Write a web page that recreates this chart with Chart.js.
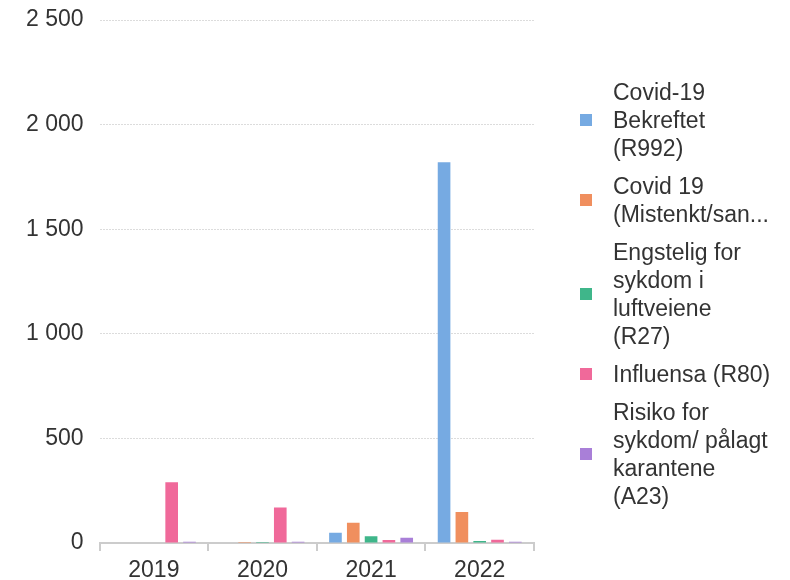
<!DOCTYPE html>
<html>
<head>
<meta charset="utf-8">
<script src="https://cdn.jsdelivr.net/npm/chart.js@4"></script>
<style>
  html, body { margin: 0; padding: 0; background: #fff; }
  #wrap { position: relative; width: 790px; height: 580px; }
  #legend {
    position: absolute; left: 580px; top: 78px;
    font-family: 'Liberation Sans', Arial, sans-serif;
    font-size: 23px; line-height: 28px; color: #333;
  }
  .item { display: flex; align-items: center; margin-bottom: 10px; }
  .box { width: 12px; height: 12px; margin-right: 21px; flex: none; }
</style>
</head>
<body>
<div id="wrap">
  <canvas id="chart"></canvas>
  <div id="legend"></div>
</div>
<script>
const years = ['2019', '2020', '2021', '2022'];

const seriesNames = [
    ['Covid-19', 'Bekreftet', '(R992)'],
    ['Covid 19', '(Mistenkt/san...'],
    ['Engstelig for', 'sykdom i', 'luftveiene', '(R27)'],
    ['Influensa (R80)'],
    ['Risiko for', 'sykdom/ pålagt', 'karantene', '(A23)']
];

const covidBekreftet = [0, 0, 49, 1820];
const covidMistenkt = [0, 5, 97, 148];
const engstelig = [0, 5, 32, 10];
const influensa = [290, 170, 14, 16];
const risiko = [6, 6, 25, 6];

const yTicks = [0, 500, 1000, 1500, 2000, 2500];

const colors = ['#76aae2', '#f08f5e', '#3fb68a', '#f0699a', '#a97fd8'];

const values = [covidBekreftet, covidMistenkt, engstelig, influensa, risiko];

const FONT = 'Liberation Sans';

function formatNumber(v) {
    return String(v).replace(/\B(?=(\d{3})+(?!\d))/g, ' ');
}

// legend as html, since the labels wrap over several lines
const legendEl = document.getElementById('legend');
seriesNames.forEach((lines, i) => {
    const item = document.createElement('div');
    item.className = 'item';
    const box = document.createElement('span');
    box.className = 'box';
    box.style.background = colors[i];
    const text = document.createElement('span');
    text.innerHTML = lines.join('<br>');
    item.appendChild(box);
    item.appendChild(text);
    legendEl.appendChild(item);
});

const chartData = {
    labels: years,
    datasets: values.map((data, i) => ({
        label: seriesNames[i].join(' '),
        data: data,
        backgroundColor: colors[i],
        borderWidth: 0,
        barPercentage: 0.71,
        categoryPercentage: 0.82
    }))
};

const chartConfig = {
    type: 'bar',
    data: chartData,
    options: {
        responsive: true,
        maintainAspectRatio: false,
        animation: false,
        layout: {
            padding: { top: 0, right: 256, bottom: 0, left: 10 }
        },
        plugins: {
            legend: { display: false },
            tooltip: { enabled: false }
        },
        scales: {
            x: {
                afterFit: (axis) => { axis.height = 37; },
                grid: {
                    display: true,
                    drawOnChartArea: false,
                    drawTicks: true,
                    tickLength: 8,
                    offset: true,
                    color: '#ccc',
                    lineWidth: 2
                },
                border: { color: '#ccc', width: 2 },
                ticks: {
                    color: '#333',
                    font: { family: FONT, size: 23, lineHeight: 1 },
                    padding: 8
                }
            },
            y: {
                min: 0,
                max: 2500,
                afterBuildTicks: (axis) => {
                    axis.ticks = yTicks.map(v => ({ value: v }));
                },
                afterFit: (axis) => {
                    axis.paddingTop = 20;
                    axis.paddingBottom = 0;
                },
                grid: {
                    color: '#dcdcdc',
                    drawTicks: false
                },
                border: { display: false, dash: [2, 1] },
                ticks: {
                    color: '#333',
                    font: { family: FONT, size: 23 },
                    padding: 16,
                    callback: (v) => formatNumber(v)
                }
            }
        }
    }
};

new Chart(document.getElementById('chart'), chartConfig);
</script>
</body>
</html>
